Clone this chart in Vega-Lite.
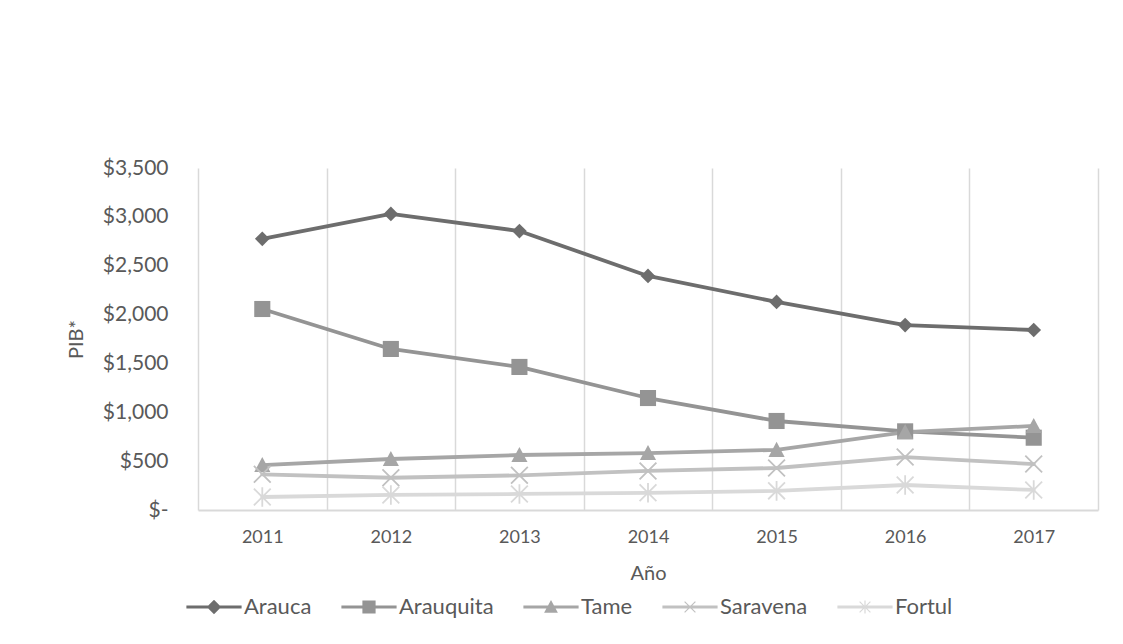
{
  "$schema": "https://vega.github.io/schema/vega-lite/v6.json",
  "width": 900,
  "height": 342,
  "autosize": {"type": "none"},
  "padding": {"left": 198, "top": 168, "right": 25, "bottom": 134},
  "background": "white",
  "config": {
    "view": {"stroke": null},
    "font": "Lato",
    "axis": {"labelColor": "#595959", "titleColor": "#595959", "labelFont": "Lato", "titleFont": "Lato", "titleFontWeight": "normal"},
    "legend": {
      "orient": "none",
      "direction": "horizontal",
      "legendX": 5,
      "legendY": 428,
      "padding": 0,
      "symbolSize": 144,
      "symbolOpacity": 1,
      "symbolStrokeWidth": 0,
      "labelOffset": 19,
      "columnPadding": 29,
      "labelFont": "Lato",
      "labelFontSize": 22,
      "labelColor": "#595959"
    }
  },
  "data": {
    "values": [
      {"year": "2011", "series": "Arauca", "pib": 2775},
      {"year": "2012", "series": "Arauca", "pib": 3030},
      {"year": "2013", "series": "Arauca", "pib": 2855},
      {"year": "2014", "series": "Arauca", "pib": 2395},
      {"year": "2015", "series": "Arauca", "pib": 2129},
      {"year": "2016", "series": "Arauca", "pib": 1893},
      {"year": "2017", "series": "Arauca", "pib": 1842},
      {"year": "2011", "series": "Arauquita", "pib": 2057},
      {"year": "2012", "series": "Arauquita", "pib": 1648},
      {"year": "2013", "series": "Arauquita", "pib": 1464},
      {"year": "2014", "series": "Arauquita", "pib": 1146},
      {"year": "2015", "series": "Arauquita", "pib": 911},
      {"year": "2016", "series": "Arauquita", "pib": 805},
      {"year": "2017", "series": "Arauquita", "pib": 740},
      {"year": "2011", "series": "Tame", "pib": 460},
      {"year": "2012", "series": "Tame", "pib": 522},
      {"year": "2013", "series": "Tame", "pib": 563},
      {"year": "2014", "series": "Tame", "pib": 583},
      {"year": "2015", "series": "Tame", "pib": 615},
      {"year": "2016", "series": "Tame", "pib": 798},
      {"year": "2017", "series": "Tame", "pib": 860},
      {"year": "2011", "series": "Saravena", "pib": 365},
      {"year": "2012", "series": "Saravena", "pib": 330},
      {"year": "2013", "series": "Saravena", "pib": 355},
      {"year": "2014", "series": "Saravena", "pib": 400},
      {"year": "2015", "series": "Saravena", "pib": 430},
      {"year": "2016", "series": "Saravena", "pib": 542},
      {"year": "2017", "series": "Saravena", "pib": 470},
      {"year": "2011", "series": "Fortul", "pib": 133},
      {"year": "2012", "series": "Fortul", "pib": 154},
      {"year": "2013", "series": "Fortul", "pib": 164},
      {"year": "2014", "series": "Fortul", "pib": 176},
      {"year": "2015", "series": "Fortul", "pib": 196},
      {"year": "2016", "series": "Fortul", "pib": 256},
      {"year": "2017", "series": "Fortul", "pib": 205}
    ]
  },
  "encoding": {
    "x": {
      "field": "year",
      "type": "ordinal",
      "bandPosition": 0.5,
      "scale": {"type": "band", "paddingInner": 0, "paddingOuter": 0},
      "title": "Año",
      "axis": {
        "labelAngle": 0,
        "grid": true,
        "tickBand": "extent",
        "gridColor": "#d9d9d9",
        "gridWidth": 1.5,
        "domainColor": "#d9d9d9",
        "domainWidth": 2,
        "ticks": false,
        "labelFontSize": 18,
        "labelPadding": 18,
        "titleFontSize": 20,
        "titlePadding": 17
      }
    },
    "y": {
      "field": "pib",
      "type": "quantitative",
      "title": "PIB*",
      "scale": {"domain": [0, 3500], "nice": false},
      "axis": {
        "values": [0, 500, 1000, 1500, 2000, 2500, 3000, 3500],
        "labelExpr": "datum.value == 0 ? '$-\u00a0\u00a0' : '$' + format(datum.value, ',')",
        "grid": false,
        "domain": false,
        "ticks": false,
        "labelFontSize": 21,
        "labelPadding": 30,
        "titleFontSize": 20,
        "titlePadding": 16
      }
    },
    "color": {
      "field": "series",
      "type": "nominal",
      "scale": {
        "domain": ["Arauca", "Arauquita", "Tame", "Saravena", "Fortul"],
        "range": ["#6d6d6d", "#949494", "#a6a6a6", "#c1c1c1", "#d9d9d9"]
      },
      "legend": {"title": null}
    }
  },
  "layer": [
    {
      "mark": {"type": "line", "strokeWidth": 3.8, "strokeCap": "round", "strokeJoin": "round"}
    },
    {
      "transform": [{"filter": "datum.series == 'Arauca'"}],
      "mark": {"type": "point", "filled": true, "opacity": 1, "size": 196, "shape": "M0,-1.05L1.05,0L0,1.05L-1.05,0Z"}
    },
    {
      "transform": [{"filter": "datum.series == 'Arauquita'"}],
      "mark": {"type": "point", "filled": true, "opacity": 1, "size": 196, "shape": "M-1.15,-1.15H1.15V1.15H-1.15Z"}
    },
    {
      "transform": [{"filter": "datum.series == 'Tame'"}],
      "mark": {"type": "point", "filled": true, "opacity": 1, "size": 196, "shape": "M0,-1.15L1.15,1L-1.15,1Z"}
    },
    {
      "transform": [{"filter": "datum.series == 'Saravena'"}],
      "mark": {"type": "point", "filled": false, "opacity": 1, "size": 196, "strokeWidth": 1.8, "shape": "M-1.2,-1.2L1.2,1.2M-1.2,1.2L1.2,-1.2"}
    },
    {
      "transform": [{"filter": "datum.series == 'Fortul'"}],
      "mark": {"type": "point", "filled": false, "opacity": 1, "size": 196, "strokeWidth": 1.8, "shape": "M-1.2,-1.2L1.2,1.2M-1.2,1.2L1.2,-1.2M0,-1.4V1.4"}
    },
    {
      "mark": {"type": "point", "filled": true, "opacity": 0},
      "encoding": {
        "shape": {
          "field": "series",
          "type": "nominal",
          "scale": {
            "domain": ["Arauca", "Arauquita", "Tame", "Saravena", "Fortul"],
            "range": [
              "M-4.6,-0.25H4.6V0.25H-4.6Z M0,-1.2L1.2,0L0,1.2L-1.2,0Z",
              "M-4.6,-0.25H4.6V0.25H-4.6Z M-1.1,-1.1H1.1V1.1H-1.1Z",
              "M-4.6,-0.25H4.6V0.25H-4.6Z M0,-1.15L1.15,0.95L-1.15,0.95Z",
              "M-4.6,-0.25H4.6V0.25H-4.6Z M-0.83,-0.97L0.97,0.83L0.83,0.97L-0.97,-0.83Z M-0.97,0.83L0.83,-0.97L0.97,-0.83L-0.83,0.97Z",
              "M-4.6,-0.25H4.6V0.25H-4.6Z M-0.83,-0.97L0.97,0.83L0.83,0.97L-0.97,-0.83Z M-0.97,0.83L0.83,-0.97L0.97,-0.83L-0.83,0.97Z M-0.1,-1.1H0.1V1.1H-0.1Z"
            ]
          },
          "legend": {"title": null}
        }
      }
    }
  ]
}
